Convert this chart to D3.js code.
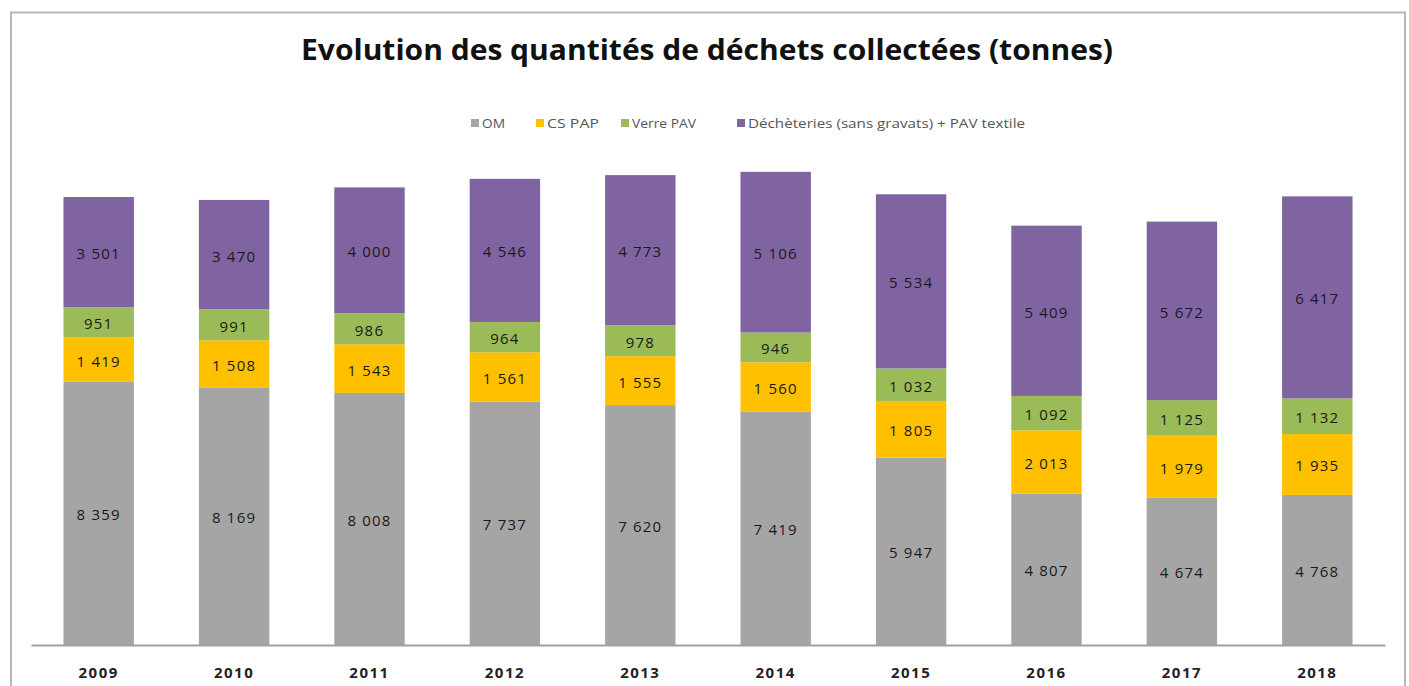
<!DOCTYPE html>
<meta charset="utf-8">
<style>
  body { margin: 0; background: #fff; }
  text { font-family: "Open Sans", "DejaVu Sans", sans-serif; }
</style>
<script src="https://cdn.jsdelivr.net/npm/d3@7"></script>
<div id="chart"></div>
<script>
// data (tonnes)
var years = ["2009","2010","2011","2012","2013","2014","2015","2016","2017","2018"];
var om      = [8359, 8169, 8008, 7737, 7620, 7419, 5947, 4807, 4674, 4768];
var csPap   = [1419, 1508, 1543, 1561, 1555, 1560, 1805, 2013, 1979, 1935];
var verre   = [951, 991, 986, 964, 978, 946, 1032, 1092, 1125, 1132];
var decheteries = [3501, 3470, 4000, 4546, 4773, 5106, 5534, 5409, 5672, 6417];
var seriesNames = ["OM", "CS PAP", "Verre PAV", "Déchèteries (sans gravats) + PAV textile"];
var colors = ["#a5a5a5", "#ffc000", "#9bbb59", "#8064a2"];

var W = 1409, H = 686;
var svg = d3.select("#chart").append("svg")
  .attr("width", W).attr("height", H);

// frame
svg.append("rect")
  .attr("x", 11).attr("y", 12.5)
  .attr("width", 1394).attr("height", 700)
  .attr("fill", "#fff").attr("stroke", "#b8b8b8").attr("stroke-width", 2);

// title
svg.append("text")
  .attr("x", 707).attr("y", 60)
  .attr("text-anchor", "middle")
  .attr("font-size", 29).attr("font-weight", "bold")
  .attr("textLength", 812).attr("lengthAdjust", "spacingAndGlyphs")
  .attr("fill", "#111")
  .text("Evolution des quantités de déchets collectées (tonnes)");

var table = years.map(function(y, i) {
  return {year: y, s0: om[i], s1: csPap[i], s2: verre[i], s3: decheteries[i]};
});
var keys = ["s0", "s1", "s2", "s3"];
var stack = d3.stack().keys(keys)(table);

var x = d3.scaleBand().domain(years).range([31, 1385]).paddingInner(0.48).paddingOuter(0.24);
var y = d3.scaleLinear().domain([0, 15000]).range([645, 645 - 15000 * 0.03148]);

var fmt = function(v) { return d3.format(",")(v).replace(",", " "); };

var groups = svg.selectAll("g.layer").data(stack).enter().append("g")
  .attr("fill", function(d, i) { return colors[i]; });

groups.selectAll("rect").data(function(d) { return d; }).enter().append("rect")
  .attr("x", function(d) { return x(d.data.year); })
  .attr("width", x.bandwidth())
  .attr("y", function(d) { return y(d[1]); })
  .attr("height", function(d) { return y(d[0]) - y(d[1]); });

groups.selectAll("text").data(function(d) { return d; }).enter().append("text")
  .attr("x", function(d) { return x(d.data.year) + x.bandwidth() / 2; })
  .attr("y", function(d) { return (y(d[0]) + y(d[1])) / 2 + 7; })
  .attr("text-anchor", "middle")
  .attr("font-size", 15)
  .attr("letter-spacing", 1.2)
  .attr("fill", "#1a1a1a")
  .text(function(d) { return fmt(d[1] - d[0]); });

// x axis
var xAxis = svg.append("g")
  .attr("transform", "translate(0,645)")
  .call(d3.axisBottom(x).tickSize(0).tickPadding(22));
xAxis.select(".domain").attr("stroke", "#a0a0a0").attr("stroke-width", 2);
xAxis.selectAll("text")
  .attr("font-family", "'Open Sans', sans-serif")
  .attr("font-size", 15).attr("font-weight", "bold")
  .attr("letter-spacing", 1.5).attr("fill", "#222");

// legend
var legendX = [471, 536, 621, 737];
var legendW = [23, 52, 64, 277];
var legend = svg.append("g");
seriesNames.forEach(function(name, i) {
  legend.append("rect")
    .attr("x", legendX[i]).attr("y", 119)
    .attr("width", 8).attr("height", 8)
    .attr("fill", colors[i]);
  legend.append("text")
    .attr("x", legendX[i] + 11).attr("y", 127.5)
    .attr("font-size", 12).attr("fill", "#555")
    .attr("textLength", legendW[i]).attr("lengthAdjust", "spacingAndGlyphs")
    .text(name);
});
</script>
